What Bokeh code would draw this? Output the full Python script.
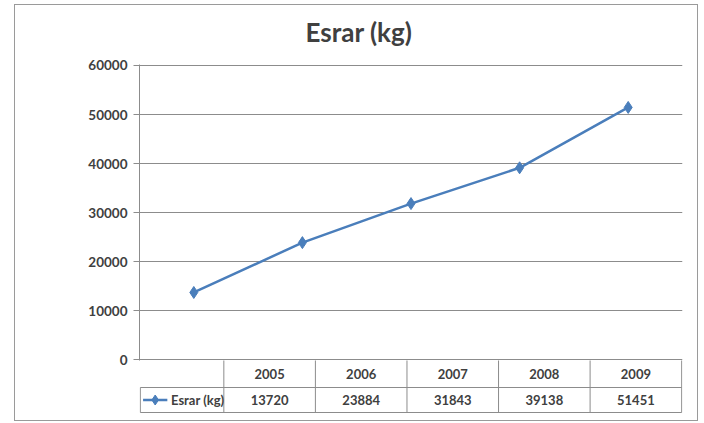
from bokeh.plotting import figure
from bokeh.layouts import column
from bokeh.models import Range1d, FixedTicker, NumeralTickFormatter, ColumnDataSource
from bokeh.core.properties import value
from bokeh.embed import file_html
from bokeh.resources import INLINE

# ---- data ----
years = ["2005", "2006", "2007", "2008", "2009"]
esrar = [13720, 23884, 31843, 39138, 51451]
y_ticks = [0, 10000, 20000, 30000, 40000, 50000, 60000]
series_name = "Esrar (kg)"
chart_title = "Esrar (kg)"

BLUE = "#4a7ebb"
TEXT = "#404040"
GRID = "#8c8c8c"
FONT = "Lato"

n = len(years)
xs = [i + 0.5 for i in range(n)]

# ---- chart ----
pA = figure(width=682, height=374, output_backend="svg", toolbar_location=None,
            x_range=Range1d(0, n), y_range=Range1d(-150, 60200),
            x_axis_location=None, min_border_left=124, min_border_right=15,
            min_border_top=68, min_border_bottom=10,
            background_fill_color="white", border_fill_alpha=0,
            outline_line_color=None, margin=(-9, 0, 0, 0))
pA.title.text = chart_title
pA.title.text_font = FONT
pA.title.text_font_size = "26px"
pA.title.text_font_style = "bold"
pA.title.text_color = TEXT
pA.title.align = "left"
pA.title.offset = 166
pA.title.standoff = 34

pA.xgrid.visible = False
pA.ygrid.grid_line_color = GRID
pA.ygrid.grid_line_width = 1
pA.yaxis.ticker = FixedTicker(ticks=y_ticks)
pA.yaxis.formatter = NumeralTickFormatter(format="0")
pA.yaxis.minor_tick_line_color = None
pA.yaxis.major_tick_out = 6
pA.yaxis.major_tick_in = 0
pA.yaxis.major_tick_line_color = GRID
pA.yaxis.axis_line_color = GRID
pA.yaxis.major_label_standoff = 6
pA.yaxis.major_label_text_font = FONT
pA.yaxis.major_label_text_font_size = "13.5px"
pA.yaxis.major_label_text_font_style = "bold"
pA.yaxis.major_label_text_color = TEXT

src = ColumnDataSource(dict(x=xs, y=esrar))
pA.line("x", "y", source=src, line_color=BLUE, line_width=2.5)
pA.scatter("x", "y", source=src, marker="diamond", size=12,
           fill_color=BLUE, line_color=BLUE)

# ---- data table ----
hw = 0.912             # header column width in category units
row_b, row_t = 25, 52  # row layout units
pB = figure(width=682, height=60, output_backend="svg", toolbar_location=None,
            x_range=Range1d(-hw - 0.009, n + 0.009), y_range=Range1d(-1, 52),
            x_axis_location=None, y_axis_location=None,
            min_border_left=24, min_border_right=14,
            min_border_top=0, min_border_bottom=7,
            background_fill_alpha=0, border_fill_alpha=0,
            outline_line_color=None, margin=(-10, 0, 0, 0))
pB.grid.visible = False

# vertical cell borders
vx = list(range(n + 1))
pB.segment(x0=vx, y0=[0] * len(vx), x1=vx, y1=[row_t + 1] * len(vx),
           line_color=GRID, line_width=1)
pB.segment(x0=[-hw], y0=[0], x1=[-hw], y1=[row_b], line_color=GRID, line_width=1)
# horizontal cell borders
pB.segment(x0=[-hw, -hw], y0=[0, row_b], x1=[n, n], y1=[0, row_b],
           line_color=GRID, line_width=1)

# year row and value row
pB.text(x=xs, y=[(row_b + row_t) / 2] * n, text=years,
        text_align="center", text_baseline="middle",
        text_font=value(FONT), text_font_size="13px", text_font_style="bold",
        text_color=TEXT)
pB.text(x=xs, y=[row_b / 2] * n, text=[str(v) for v in esrar],
        text_align="center", text_baseline="middle",
        text_font=value(FONT), text_font_size="13px", text_font_style="bold",
        text_color=TEXT)

# legend key in header cell
lx0, lx1 = -hw + 0.03, -hw + 0.295
pB.line(x=[lx0, lx1], y=[row_b / 2, row_b / 2], line_color=BLUE, line_width=2.5)
pB.scatter(x=[(lx0 + lx1) / 2], y=[row_b / 2], marker="diamond", size=10,
           fill_color=BLUE, line_color=BLUE)
pB.text(x=[lx1 + 0.04], y=[row_b / 2], text=[series_name],
        text_align="left", text_baseline="middle",
        text_font=value(FONT), text_font_size="13px", text_font_style="bold",
        text_color=TEXT)

layout = column(pA, pB, spacing=0, margin=(4, 0, 0, 14),
                styles={"border": "1px solid #9a9a9a", "background": "white"})

open("out.html", "w").write(file_html(layout, INLINE))
